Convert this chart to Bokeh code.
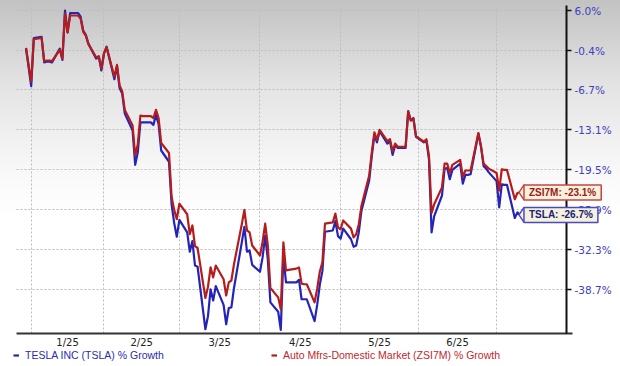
import pandas as pd
from bokeh.plotting import figure
from bokeh.models import (Range1d, FixedTicker, PrintfTickFormatter, Label,
                          Legend, LegendItem, ColumnDataSource, Grid)
from bokeh.embed import file_html
from bokeh.resources import INLINE

# ---------------- data ----------------
dates = [
    "2024-12-31", "2025-01-02", "2025-01-03", "2025-01-06", "2025-01-07", "2025-01-08",
    "2025-01-09", "2025-01-10", "2025-01-13", "2025-01-14", "2025-01-15", "2025-01-16",
    "2025-01-17", "2025-01-20", "2025-01-21", "2025-01-22", "2025-01-23", "2025-01-24",
    "2025-01-27", "2025-01-28", "2025-01-29", "2025-01-30", "2025-01-31",
    "2025-02-03", "2025-02-04", "2025-02-05", "2025-02-06", "2025-02-07",
    "2025-02-10", "2025-02-11", "2025-02-12", "2025-02-13", "2025-02-14",
    "2025-02-17", "2025-02-18", "2025-02-19", "2025-02-20", "2025-02-21",
    "2025-02-24", "2025-02-25", "2025-02-26", "2025-02-27", "2025-02-28",
    "2025-03-03", "2025-03-04", "2025-03-05", "2025-03-06", "2025-03-07",
    "2025-03-10", "2025-03-11", "2025-03-12", "2025-03-13", "2025-03-14",
    "2025-03-17", "2025-03-18", "2025-03-19", "2025-03-20", "2025-03-21",
    "2025-03-24", "2025-03-25", "2025-03-26", "2025-03-27", "2025-03-28",
    "2025-03-31", "2025-04-01", "2025-04-02", "2025-04-03", "2025-04-04",
    "2025-04-07", "2025-04-08", "2025-04-09", "2025-04-10", "2025-04-11",
    "2025-04-14", "2025-04-15", "2025-04-16", "2025-04-17", "2025-04-18",
    "2025-04-21", "2025-04-22", "2025-04-23", "2025-04-24", "2025-04-25",
    "2025-04-28", "2025-04-29", "2025-04-30", "2025-05-01", "2025-05-02",
    "2025-05-05", "2025-05-06", "2025-05-07", "2025-05-08", "2025-05-09",
    "2025-05-12", "2025-05-13", "2025-05-14", "2025-05-15", "2025-05-16",
    "2025-05-19", "2025-05-20", "2025-05-21", "2025-05-22", "2025-05-23",
    "2025-05-26", "2025-05-27", "2025-05-28", "2025-05-29", "2025-05-30",
    "2025-06-02", "2025-06-03", "2025-06-04", "2025-06-05", "2025-06-06",
    "2025-06-09", "2025-06-10", "2025-06-11", "2025-06-12", "2025-06-13",
    "2025-06-16", "2025-06-17", "2025-06-18", "2025-06-19", "2025-06-20",
    "2025-06-23", "2025-06-24", "2025-06-25", "2025-06-26", "2025-06-27",
    "2025-06-30", "2025-07-01", "2025-07-02", "2025-07-03", "2025-07-04",
    "2025-07-07", "2025-07-08", "2025-07-09",
]

tsla = [
    0.0, -6.1, 1.6, 1.8, -2.3, -2.2,
    -2.2, -2.3, -0.1, -1.9, 6.0, 2.5,
    5.6, 5.6, 5.0, 2.8, 2.1, 0.7,
    -1.7, -1.4, -3.6, -0.9, 0.2,
    -5.0, -2.9, -6.4, -7.3, -10.5,
    -13.2, -18.7, -16.7, -11.9, -11.9,
    -11.9, -12.3, -10.7, -12.2, -16.4,
    -18.2, -25.0, -28.0, -30.2, -27.5,
    -29.5, -32.6, -30.9, -34.8, -35.0,
    -45.0, -42.9, -38.6, -40.4, -38.1,
    -41.1, -44.2, -41.6, -41.5, -38.4,
    -31.1, -28.6, -32.6, -32.4, -34.7,
    -35.8, -33.5, -30.0, -33.8, -40.7,
    -42.2, -45.1, -33.2, -37.5, -37.5,
    -37.5, -37.1, -40.2, -40.2, -40.2,
    -43.7, -41.1, -37.9, -35.7, -29.4,
    -29.2, -27.7, -30.1, -30.5, -28.9,
    -30.6, -31.8, -31.6, -29.5, -26.1,
    -21.2, -17.3, -13.9, -15.1, -13.3,
    -15.3, -14.9, -17.1, -15.5, -16.0,
    -16.0, -10.1, -11.6, -11.2, -14.2,
    -15.1, -14.8, -17.8, -29.5, -26.9,
    -23.6, -19.3, -19.2, -21.0, -19.5,
    -18.5, -21.7, -20.3, -20.3, -20.2,
    -13.7, -15.7, -18.9, -19.3, -19.9,
    -21.3, -25.5, -21.8, -21.9, -21.9,
    -27.2, -26.3, -26.7,
]

zsi7m = [
    0.0, -5.4, 1.4, 1.6, -2.1, -2.0,
    -2.0, -2.1, -0.3, -1.7, 5.5, 2.5,
    5.2, 5.2, 4.7, 2.6, 2.0, 0.6,
    -1.5, -1.3, -3.3, -0.8, 0.1,
    -4.6, -2.7, -6.0, -6.9, -9.9,
    -12.4, -17.2, -15.4, -10.8, -10.9,
    -10.9, -11.2, -9.9, -11.2, -15.2,
    -16.8, -23.8, -25.9, -27.4, -24.9,
    -26.6, -29.8, -28.4, -31.7, -32.0,
    -40.0, -38.2, -35.1, -36.7, -34.8,
    -37.0, -39.6, -37.5, -37.2, -34.6,
    -28.2, -25.9, -29.2, -29.5, -31.6,
    -33.2, -31.0, -28.1, -31.6, -38.4,
    -39.9, -41.8, -31.1, -35.6, -35.5,
    -35.3, -35.1, -37.7, -37.8, -37.8,
    -40.7, -38.5, -35.8, -34.3, -28.1,
    -27.9, -26.5, -28.7, -29.0, -27.6,
    -28.9, -30.3, -29.8, -28.2, -25.3,
    -20.4, -16.7, -13.5, -14.7, -13.1,
    -14.9, -14.6, -16.5, -15.3, -15.8,
    -15.8, -10.2, -11.6, -11.3, -14.1,
    -15.0, -14.6, -17.3, -26.4, -25.0,
    -22.3, -18.5, -18.5, -20.0, -18.7,
    -17.9, -20.6, -19.6, -19.6, -19.6,
    -13.6, -15.8, -18.5, -18.9, -19.3,
    -20.0, -22.8, -19.4, -19.5, -19.5,
    -24.2, -23.2, -23.1,
]

grid_dates = ["2025-01-02", "2025-01-30", "2025-02-28", "2025-03-31",
              "2025-05-01", "2025-05-31", "2025-06-30"]
month_labels = ["1/25", "2/25", "3/25", "4/25", "5/25", "6/25"]
y_ticks = [6.0, -0.4, -6.7, -13.1, -19.5, -25.9, -32.3, -38.7]

name_tsla = "TESLA INC (TSLA) % Growth"
name_zsi = "Auto Mfrs-Domestic Market (ZSI7M) % Growth"

# ---------------- derived positions ----------------
origin = pd.Timestamp("2025-01-01")
day = [(pd.Timestamp(d) - origin).days for d in dates]
grid_days = [(pd.Timestamp(d) - origin).days for d in grid_dates]
label_days = [(a + b) / 2 for a, b in zip(grid_days[:-1], grid_days[1:])]

W, H = 620, 366
PPD = 2.6          # pixels per day
PPP = 6.25         # pixels per percent
# plotting box (where the axes sit)
X0, X_AX = -4.65, 206.9          # left edge / right axis position (days)
Y0, Y1 = -45.68, 6.8             # bottom axis position / top (percent)
# whole-canvas ranges (frame covers the whole figure, axes are placed at fixed locations)
XR0 = X0 - 16 / PPD
XR1 = XR0 + W / PPD
YR1 = Y1 + 5 / PPP
YR0 = YR1 - H / PPP

p = figure(width=W, height=H, x_range=Range1d(XR0, XR1), y_range=Range1d(YR0, YR1),
           y_axis_location="right", output_backend="svg", toolbar_location=None,
           min_border=0)

p.background_fill_alpha = 0
p.border_fill_alpha = 0
p.outline_line_color = None
p.styles = {"background": "linear-gradient(to bottom, #c2c2c2 0px, #e2e2e2 80px, #f8f8f8 170px, #ffffff 215px)"}

# x axis (fixed at the bottom of the plotting box)
xa = p.xaxis[0]
xa.fixed_location = Y0
xa.bounds = (X0, X_AX + 2.4)
xa.ticker = FixedTicker(ticks=label_days)
xa.major_label_overrides = {d: lab for d, lab in zip(label_days, month_labels)}
xa.major_tick_line_color = None
xa.major_tick_out = 0
xa.major_tick_in = 0
xa.minor_tick_line_color = None
xa.axis_line_width = 2
xa.axis_line_color = "#333333"
xa.major_label_standoff = 3
xa.major_label_text_font = "DejaVu Sans"
xa.major_label_text_font_size = "10px"
xa.major_label_text_color = "#222222"

# y axis (right, fixed at the right edge of the plotting box)
ya = p.yaxis[0]
ya.fixed_location = X_AX
ya.bounds = (Y0, Y1)
ya.ticker = FixedTicker(ticks=y_ticks)
ya.formatter = PrintfTickFormatter(format="%.1f%%")
ya.axis_line_width = 2
ya.axis_line_color = "#111111"
ya.major_tick_out = 5
ya.major_tick_in = 0
ya.major_tick_line_width = 1.5
ya.major_tick_line_color = "#111111"
ya.minor_tick_line_color = None
ya.major_label_standoff = 3
ya.major_label_text_font = "DejaVu Sans"
ya.major_label_text_font_size = "10.5px"
ya.major_label_text_color = "#4040c0"

# grids
GRID_COLOR = "#bdbdbd"
p.xgrid.ticker = FixedTicker(ticks=grid_days)
p.ygrid.ticker = FixedTicker(ticks=y_ticks)
if "cross_bounds" in Grid.properties():
    p.xgrid.cross_bounds = (Y0, Y1)
    p.ygrid.cross_bounds = (X0, X_AX)
    for g in (p.xgrid, p.ygrid):
        g.grid_line_color = GRID_COLOR
        g.grid_line_dash = "2 2"
        g.grid_line_width = 1
else:
    p.xgrid.visible = False
    p.ygrid.visible = False
    p.segment(x0=grid_days, y0=[Y0] * len(grid_days), x1=grid_days, y1=[Y1] * len(grid_days),
              line_color=GRID_COLOR, line_dash="2 2", line_width=1)
    p.segment(x0=[X0] * len(y_ticks), y0=y_ticks, x1=[X_AX] * len(y_ticks), y1=y_ticks,
              line_color=GRID_COLOR, line_dash="2 2", line_width=1)

# lines
src = ColumnDataSource(dict(x=day, tsla=tsla, zsi=zsi7m))
BLUE = "#2424b8"
RED = "#b51c1c"
r_t = p.line("x", "tsla", source=src, line_color=BLUE, line_width=2.2, line_join="round")
r_z = p.line("x", "zsi", source=src, line_color=RED, line_width=2.2, line_join="round")

# legends (below the chart)
def make_legend(label, renderer, color, loc):
    lg = Legend(items=[LegendItem(label=label, renderers=[renderer])], location=loc,
                orientation="horizontal", glyph_width=6, glyph_height=12,
                label_standoff=6, padding=0, margin=0, spacing=0,
                background_fill_alpha=0, border_line_alpha=0,
                label_text_font="Liberation Sans", label_text_font_size="10.5px",
                label_text_color=color, label_height=12)
    p.add_layout(lg)
    return lg

make_legend(name_tsla, r_t, "#2b2bb0", (13, 5))
make_legend(name_zsi, r_z, "#c0272d", (271, 5))

# end-value callouts (pointer + boxed label)
last_x = day[-1]
FILL = "#f4f1dc"
callouts = [("ZSI7M", zsi7m[-1], "#c84444", "#a01818"),
            ("TSLA", tsla[-1], "#4a4ac4", "#20207a")]
p.scatter([last_x + 4 / PPD] * 2, [c[1] for c in callouts], marker="diamond", size=15,
          fill_color=FILL, line_color=[c[2] for c in callouts], line_width=1.5,
          level="glyph")
for name, val, border, tcol in callouts:
    p.add_layout(Label(x=last_x, y=val, text=f"{name}: {val:.1f}%", x_offset=4,
                       text_align="left", text_baseline="middle",
                       text_font="Liberation Sans", text_font_style="bold",
                       text_font_size="10px", text_color=tcol,
                       background_fill_color=FILL, border_line_color=border,
                       border_line_width=1.5, padding=dict(x=5, y=2), level="overlay"))

open("out.html", "w").write(file_html(p, INLINE))
